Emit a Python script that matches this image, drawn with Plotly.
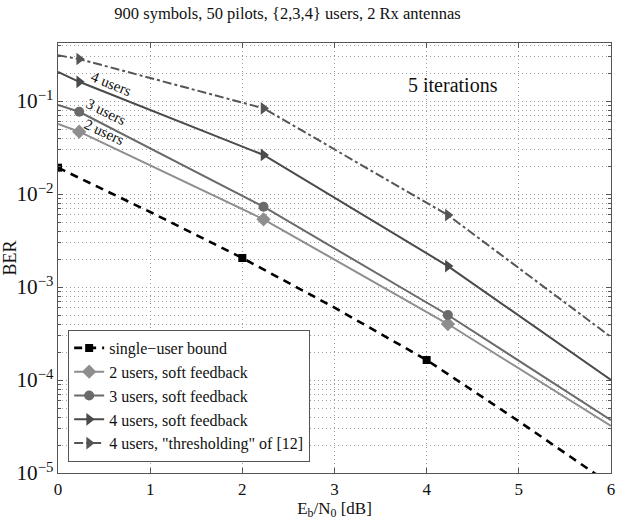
import math
import plotly.graph_objects as go

# ---- data ----
x_bound = [0, 1, 2, 3, 4, 5, 6]
y_bound = [0.0192, 0.0064, 0.00205, 0.00060, 0.000164, 3.6e-5, 7.5e-6]
x_bound_mk = [0, 2, 4]
y_bound_mk = [0.0192, 0.00205, 0.000164]

x_soft = [0, 0.23, 2.23, 4.23, 6]
y_2u = [0.0566, 0.0468, 0.00535, 0.00040, 3.2e-5]
y_3u = [0.0906, 0.0767, 0.00731, 0.00050, 3.7e-5]
y_4u = [0.206, 0.161, 0.0263, 0.00168, 1.0e-4]
y_thr = [0.31, 0.283, 0.0835, 0.00594, 2.9e-4]

names = ["single\u2212user bound", "2 users, soft feedback", "3 users, soft feedback",
         "4 users, soft feedback", "4 users, \"thresholding\" of [12]"]
x_ticks = [0, 1, 2, 3, 4, 5, 6]

FONT = "Liberation Serif, Times New Roman, serif"
C_BOUND = "#000000"
C_2U = "#8e8e8e"
C_3U = "#6a6a6a"
C_4U = "#4a4a4a"
C_THR = "#555555"

fig = go.Figure()

series = [
    (x_bound, y_bound, x_bound_mk, y_bound_mk, C_BOUND, "square", "8px,6px", 2.6, 8),
    (x_soft, y_2u, x_soft[1:4], y_2u[1:4], C_2U, "diamond", "solid", 2, 11),
    (x_soft, y_3u, x_soft[1:4], y_3u[1:4], C_3U, "circle", "solid", 2, 10),
    (x_soft, y_4u, x_soft[1:4], y_4u[1:4], C_4U, "triangle-right", "solid", 2, 11),
    (x_soft, y_thr, x_soft[1:4], y_thr[1:4], C_THR, "triangle-right", "dashdot", 2, 11),
]

for name, (xl, yl, xm, ym, col, sym, dash, lw, ms) in zip(names, series):
    fig.add_trace(go.Scatter(x=xl, y=yl, mode="lines", showlegend=False,
                             line=dict(color=col, width=lw, dash=dash), hoverinfo="skip"))
    fig.add_trace(go.Scatter(x=xm, y=ym, mode="markers", showlegend=False,
                             marker=dict(color=col, symbol=sym, size=ms)))
    fig.add_trace(go.Scatter(x=[None], y=[None], mode="lines+markers", name=name,
                             line=dict(color=col, width=lw, dash=dash),
                             marker=dict(color=col, symbol=sym, size=ms)))

# annotations
fig.add_annotation(x=4.29, y=math.log10(0.149), text="5 iterations", showarrow=False,
                   font=dict(family=FONT, size=20, color="#111"))
fig.add_annotation(x=0.58, y=math.log10(0.152), text="4 users", showarrow=False,
                   textangle=22, font=dict(family=FONT, size=15, color="#111"))
fig.add_annotation(x=0.525, y=math.log10(0.0762), text="3 users", showarrow=False,
                   textangle=26, font=dict(family=FONT, size=15, color="#111"))
fig.add_annotation(x=0.50, y=math.log10(0.0464), text="2 users", showarrow=False,
                   textangle=25, font=dict(family=FONT, size=15, color="#111"))

grid = "#a0a0a0"
gdash = "1px,3px"
fig.update_xaxes(range=[0, 6], tickvals=x_ticks, ticktext=[str(v) for v in x_ticks],
                 showline=True, linecolor="#555", linewidth=1.2, mirror="ticks",
                 ticks="inside", ticklen=5, tickcolor="#555",
                 showgrid=True, gridcolor=grid, griddash=gdash, gridwidth=1,
                 zeroline=False, ticklabeloverflow="allow",
                 tickfont=dict(family=FONT, size=17, color="#111"),
                 title=dict(text="E<sub>b</sub>/N<sub>0</sub> [dB]", standoff=4,
                            font=dict(family=FONT, size=17, color="#111")))
fig.update_yaxes(type="log", range=[-5, -0.376], dtick=1, exponentformat="power",
                 showline=True, linecolor="#555", linewidth=1.2, mirror="ticks",
                 ticks="inside", ticklen=5, tickcolor="#555",
                 showgrid=True, gridcolor=grid, griddash=gdash, gridwidth=1,
                 minor=dict(dtick="D1", showgrid=True, gridcolor=grid, griddash=gdash,
                            ticks="inside", ticklen=3, tickcolor="#555"),
                 zeroline=False,
                 tickfont=dict(family=FONT, size=17, color="#111"),
                 title=dict(text="BER", standoff=2,
                            font=dict(family=FONT, size=18, color="#111")))

fig.update_layout(
    width=617, height=523,
    margin=dict(l=55, r=2, t=43, b=50),
    paper_bgcolor="white", plot_bgcolor="white",
    title=dict(text="900 symbols, 50 pilots, {2,3,4} users, 2 Rx antennas",
               x=0.466, xanchor="center", y=0.985, yanchor="top",
               font=dict(family=FONT, size=16.5, color="#111")),
    legend=dict(x=0.018, y=0.026, xanchor="left", yanchor="bottom",
                bgcolor="white", bordercolor="#555", borderwidth=1.2,
                font=dict(family=FONT, size=16, color="#111"),
                tracegroupgap=0, itemwidth=30),
    showlegend=True,
)

fig.write_html("out.html")
